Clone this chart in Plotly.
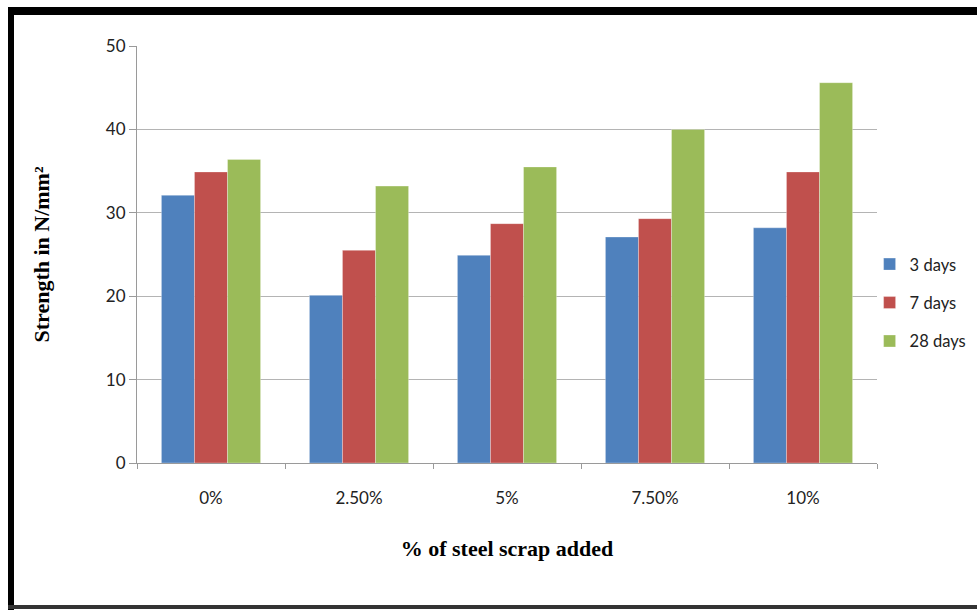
import plotly.graph_objects as go

categories = ["0%", "2.50%", "5%", "7.50%", "10%"]
series_names = ["3 days", "7 days", "28 days"]
days3 = [32.1, 20.1, 24.9, 27.1, 28.2]
days7 = [34.9, 25.5, 28.7, 29.3, 34.9]
days28 = [36.4, 33.2, 35.5, 40.0, 45.6]
y_ticks = [0, 10, 20, 30, 40, 50]
colors = ["#4F81BD", "#C0504D", "#9BBB59"]

fig = go.Figure()
for i, (name, vals) in enumerate(zip(series_names, [days3, days7, days28])):
    fig.add_trace(go.Bar(
        x=categories, y=vals, name=name, legendgroup=name,
        marker=dict(color=colors[i], line=dict(color="rgba(255,255,255,0.5)", width=0.6)),
    ))

tick_font = dict(family="Lato, Open Sans, sans-serif", size=17, color="#222222")
legend_font = dict(family="Lato, Open Sans, sans-serif", size=16.5, color="#222222")
title_font = dict(family="Liberation Serif, Times New Roman, serif", size=22, color="#000000")

fig.update_layout(
    width=977, height=610,
    margin=dict(l=137, r=100, t=46, b=147, autoexpand=False),
    paper_bgcolor="white", plot_bgcolor="white",
    barmode="group", bargap=0.33, bargroupgap=0,
    showlegend=True,
    legend=dict(x=0.99, y=0.384, xanchor="left", yanchor="middle",
                font=legend_font, traceorder="grouped", tracegroupgap=14,
                itemwidth=30, bgcolor="rgba(0,0,0,0)"),
    xaxis=dict(
        type="category", showline=True, linecolor="#9a9a9a", linewidth=1,
        ticks="outside", tickson="boundaries", ticklen=5, tickcolor="#9a9a9a",
        tickfont=tick_font, ticklabelstandoff=20,
        title=dict(text="<b>% of steel scrap added</b>", font=title_font, standoff=33),
        showgrid=False,
    ),
    yaxis=dict(
        range=[0, 50], tickvals=y_ticks, showline=True, linecolor="#9a9a9a", linewidth=1,
        ticks="outside", ticklen=7, tickcolor="#9a9a9a", tickfont=tick_font,
        showgrid=True, gridcolor="#b4b4b4", gridwidth=1, zeroline=False,
        title=dict(text="<b>Strength in N/mm²</b>", font=title_font, standoff=50),
    ),
)

# outer frame (black border of the original figure)
fig.add_shape(type="line", xref="paper", yref="paper",
              x0=(9 - 137) / 740, x1=(990 - 137) / 740,
              y0=1 + (46 - 11) / 417, y1=1 + (46 - 11) / 417,
              line=dict(color="black", width=8))
fig.add_shape(type="line", xref="paper", yref="paper",
              x0=(11 - 137) / 740, x1=(11 - 137) / 740,
              y0=1 + (46 - 7) / 417, y1=-(612 - 463) / 417,
              line=dict(color="black", width=6))
fig.add_shape(type="line", xref="paper", yref="paper",
              x0=(8 - 137) / 740, x1=(990 - 137) / 740,
              y0=-(607 - 463) / 417, y1=-(607 - 463) / 417,
              line=dict(color="#333333", width=4))

fig.write_html("out.html")
